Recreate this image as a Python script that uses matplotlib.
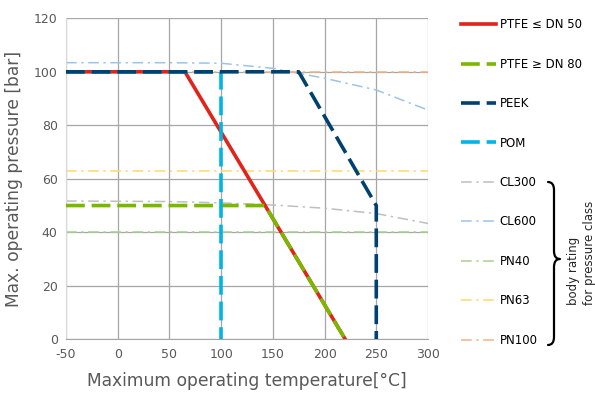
#!/usr/bin/env python3
"""Pressure/temperature rating chart for seat materials vs body pressure classes."""

import matplotlib
matplotlib.use("Agg")
import matplotlib.pyplot as plt
from matplotlib.path import Path
from matplotlib.patches import PathPatch

plt.rcParams["axes.unicode_minus"] = False

# seat material curves (temperature °C, pressure bar)
ptfe_small_t = [-50, 65, 220]
ptfe_small_p = [100, 100, 0]
ptfe_large_t = [-50, 142.5, 220]
ptfe_large_p = [50, 50, 0]
peek_t = [-50, 175, 250, 250]
peek_p = [100, 100, 50, 0]
pom_t = [-50, 100, 100]
pom_p = [100, 100, 0]

# body ratings
cl300_t = [-50, 50, 100, 150, 200, 250, 300]
cl300_p = [51.7, 51.5, 51.0, 50.2, 49.0, 47.0, 43.3]
cl600_t = [-50, 50, 100, 150, 200, 250, 300]
cl600_p = [103.4, 103.4, 103.2, 101.3, 97.6, 93.2, 85.7]
pn40_t = [-50, 300]
pn40_p = [40, 40]
pn63_t = [-50, 300]
pn63_p = [63, 63]
pn100_t = [-50, 300]
pn100_p = [100, 100]

x_ticks = [-50, 0, 50, 100, 150, 200, 250, 300]
y_ticks = [0, 20, 40, 60, 80, 100, 120]

W, H = 595, 393
fig = plt.figure(figsize=(W / 100, H / 100), dpi=100)
ax = fig.add_axes([66 / W, 1 - 339.3 / H, 362 / W, 321 / H])

dashdot = (0, (7, 3, 1.5, 3))
body_lw = 1.1
ax.plot(cl300_t, cl300_p, color="#BFBFBF", lw=body_lw, ls=dashdot, label="CL300", zorder=2)
ax.plot(cl600_t, cl600_p, color="#9DC3E6", lw=body_lw, ls=dashdot, label="CL600", zorder=2)
ax.plot(pn40_t, pn40_p, color="#A9D18E", lw=body_lw, ls=dashdot, label="PN40", zorder=2)
ax.plot(pn63_t, pn63_p, color="#FFD966", lw=body_lw, ls=dashdot, label="PN63", zorder=2)
ax.plot(pn100_t, pn100_p, color="#F4B183", lw=body_lw, ls=dashdot, label="PN100", zorder=2)

thick = 2.6
dash = (0, (5.2, 1.9))
ax.plot(ptfe_small_t, ptfe_small_p, color="#E2231A", lw=thick, label="PTFE ≤ DN 50", zorder=3)
ax.plot(ptfe_large_t, ptfe_large_p, color="#7AB800", lw=thick, ls=dash, label="PTFE ≥ DN 80", zorder=4)
ax.plot(pom_t, pom_p, color="#00B4E6", lw=thick, ls=dash, label="POM", zorder=4)
ax.plot(peek_t, peek_p, color="#004170", lw=thick, ls=dash, label="PEEK", zorder=5)

ax.set_xlim(-50, 300)
ax.set_ylim(0, 120)
ax.set_xticks(x_ticks)
ax.set_yticks(y_ticks)
ax.grid(True, color="#A6A6A6", lw=0.9)
for side in ["top", "right"]:
    ax.spines[side].set_visible(False)
ax.spines["left"].set_color("#D9D9D9")
ax.spines["bottom"].set_color("#A6A6A6")
ax.tick_params(length=0, colors="#595959", labelsize=9, pad=6)
ax.set_xlabel("Maximum operating temperature[°C]", fontsize=12.3, color="#595959", labelpad=8)
ax.set_ylabel("Max. operating pressure [bar]", fontsize=12.3, color="#595959", labelpad=8)

order = ["PTFE ≤ DN 50", "PTFE ≥ DN 80", "PEEK", "POM",
         "CL300", "CL600", "PN40", "PN63", "PN100"]
handles, labels = ax.get_legend_handles_labels()
lookup = dict(zip(labels, handles))
ax.legend([lookup[k] for k in order], order, loc="upper left",
          bbox_to_anchor=(456 / W, 1 - 13.5 / H), bbox_transform=fig.transFigure,
          frameon=False, fontsize=8.5, handlelength=3.0, handletextpad=0.3,
          labelspacing=2.24, borderaxespad=0)

# curly brace grouping the body ratings
bx, bxm, btip = 548, 554, 560
ytop, ymid, ybot = 182, 259, 345
brace = [(bx, ytop), (bxm, ytop), (bxm, ytop + 8),
         (bxm, ymid - 8),
         (bxm, ymid), (btip, ymid),
         (bxm, ymid), (bxm, ymid + 8),
         (bxm, ybot - 8),
         (bxm, ybot), (bx, ybot)]
codes = [Path.MOVETO, Path.CURVE3, Path.CURVE3,
         Path.LINETO,
         Path.CURVE3, Path.CURVE3,
         Path.CURVE3, Path.CURVE3,
         Path.LINETO,
         Path.CURVE3, Path.CURVE3]
brace = [(x / W, 1 - y / H) for x, y in brace]
fig.patches.append(PathPatch(Path(brace, codes), transform=fig.transFigure,
                             fill=False, lw=1.6, color="black",
                             capstyle="round", joinstyle="round"))

fig.text(582 / W, 1 - 305 / H, "body rating\nfor pressure class", rotation=90,
         ha="center", va="bottom", multialignment="left", fontsize=8.5,
         color="#262626", linespacing=1.3)

fig.savefig("out.png", dpi=100)
